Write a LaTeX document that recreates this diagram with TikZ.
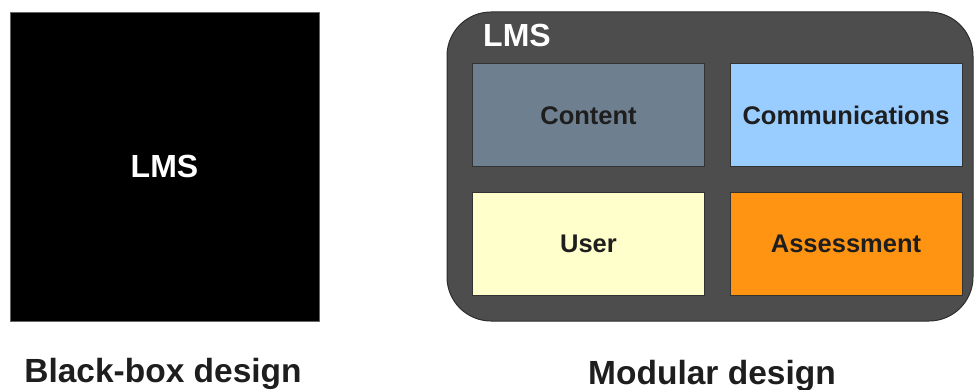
\documentclass[tikz,border=0pt]{standalone}
\usepackage{fontspec}
\setmainfont{Liberation Sans}
\definecolor{shell}{HTML}{4D4D4D}
\definecolor{shellline}{HTML}{2E2E2E}
\definecolor{contentfill}{HTML}{6E7F8F}
\definecolor{commfill}{HTML}{99CCFF}
\definecolor{userfill}{HTML}{FFFFCC}
\definecolor{assessfill}{HTML}{FF9412}
\definecolor{captiontext}{HTML}{1E1E1E}
\tikzset{
  module/.style={draw=black!80, line width=1pt, minimum width=232pt, minimum height=103pt,
    inner sep=0pt, font=\bfseries\fontsize{25.5}{29}\selectfont, text=captiontext},
  caption/.style={font=\bfseries\fontsize{33.5}{40}\selectfont, text=captiontext, inner sep=0pt},
  lmslabel/.style={font=\bfseries\fontsize{32}{38}\selectfont, text=white, inner sep=0pt}
}
\begin{document}
\begin{tikzpicture}[x=1pt,y=-1pt]
  \useasboundingbox (0,0) rectangle (975,390);
  % monolithic system
  \node[draw=black!60, fill=black, line width=0.8pt, minimum width=309pt, minimum height=309pt,
        inner sep=0pt] (blackbox) at (164.5,166.5) {};
  \node[lmslabel] (bblabel) at (blackbox.center) {LMS};
  \node[caption, anchor=base] (bbcaption) at (163,382) {Black-box design};
  % modular system
  \node[draw=shellline, fill=shell, line width=1pt, rounded corners=44pt,
        minimum width=526pt, minimum height=309pt, inner sep=0pt] (shellbox) at (710,166.5) {};
  \node[lmslabel, anchor=base west] (modlabel) at (483,47) {LMS};
  \node[module, fill=contentfill] (content) at (588.5,115.5) {Content};
  \node[module, fill=commfill] (comm) at (846,115.5) {Communications};
  \node[module, fill=userfill] (user) at (588.5,244) {User};
  \node[module, fill=assessfill] (assess) at (846,244) {Assessment};
  \node[caption, anchor=base] (modcaption) at (712,384) {Modular design};
\end{tikzpicture}
\end{document}
